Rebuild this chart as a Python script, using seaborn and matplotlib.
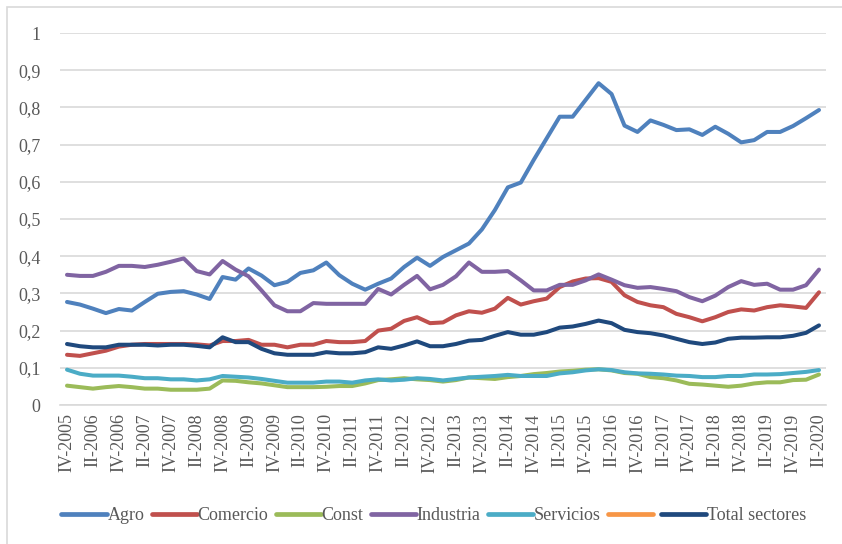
import matplotlib
matplotlib.use("Agg")
import matplotlib.pyplot as plt
from matplotlib.lines import Line2D
from matplotlib.patches import Rectangle
import seaborn as sns
import pandas as pd
import numpy as np

# ---- data ----
tick_labels = ["IV-2005", "II-2006", "IV-2006", "II-2007", "IV-2007", "II-2008",
               "IV-2008", "II-2009", "IV-2009", "II-2010", "IV-2010", "II-2011",
               "IV-2011", "II-2012", "IV-2012", "II-2013", "IV-2013", "II-2014",
               "IV-2014", "II-2015", "IV-2015", "II-2016", "IV-2016", "II-2017",
               "IV-2017", "II-2018", "IV-2018", "II-2019", "IV-2019", "II-2020"]

agro = [0.277, 0.270, 0.259, 0.247, 0.258, 0.254, 0.277, 0.299, 0.304, 0.306,
        0.297, 0.285, 0.344, 0.337, 0.367, 0.348, 0.322, 0.331, 0.355, 0.362,
        0.383, 0.349, 0.326, 0.310, 0.326, 0.340, 0.371, 0.396, 0.374, 0.398,
        0.416, 0.434, 0.472, 0.524, 0.585, 0.598, 0.659, 0.717, 0.775, 0.775,
        0.820, 0.865, 0.836, 0.751, 0.734, 0.765, 0.753, 0.739, 0.741, 0.726,
        0.748, 0.729, 0.706, 0.712, 0.734, 0.734, 0.750, 0.771, 0.793]

comercio = [0.135, 0.132, 0.139, 0.146, 0.157, 0.162, 0.164, 0.164, 0.164, 0.164,
            0.163, 0.160, 0.172, 0.172, 0.175, 0.162, 0.162, 0.155, 0.162, 0.162,
            0.172, 0.169, 0.169, 0.172, 0.200, 0.205, 0.226, 0.236, 0.220, 0.222,
            0.241, 0.252, 0.248, 0.259, 0.288, 0.270, 0.279, 0.286, 0.317, 0.332,
            0.340, 0.341, 0.331, 0.295, 0.277, 0.268, 0.263, 0.245, 0.236, 0.225,
            0.236, 0.250, 0.257, 0.254, 0.263, 0.268, 0.265, 0.261, 0.303]

const = [0.052, 0.048, 0.044, 0.048, 0.051, 0.048, 0.044, 0.044, 0.041, 0.041,
         0.041, 0.044, 0.066, 0.065, 0.061, 0.058, 0.053, 0.048, 0.048, 0.048,
         0.049, 0.051, 0.051, 0.058, 0.067, 0.069, 0.072, 0.069, 0.067, 0.063,
         0.067, 0.074, 0.072, 0.070, 0.075, 0.078, 0.083, 0.086, 0.090, 0.092,
         0.095, 0.096, 0.093, 0.086, 0.084, 0.075, 0.072, 0.066, 0.057, 0.055,
         0.052, 0.049, 0.052, 0.058, 0.061, 0.061, 0.067, 0.068, 0.082]

industria = [0.350, 0.347, 0.347, 0.358, 0.374, 0.374, 0.371, 0.377, 0.385, 0.394,
             0.360, 0.351, 0.387, 0.364, 0.346, 0.308, 0.268, 0.252, 0.252, 0.274,
             0.272, 0.272, 0.272, 0.272, 0.312, 0.297, 0.323, 0.347, 0.311, 0.323,
             0.346, 0.383, 0.358, 0.358, 0.360, 0.335, 0.308, 0.308, 0.323, 0.323,
             0.335, 0.351, 0.337, 0.322, 0.315, 0.317, 0.312, 0.306, 0.290, 0.279,
             0.294, 0.317, 0.333, 0.323, 0.326, 0.310, 0.310, 0.322, 0.364]

servicios = [0.095, 0.084, 0.079, 0.079, 0.079, 0.076, 0.072, 0.072, 0.069, 0.069,
             0.066, 0.069, 0.078, 0.076, 0.074, 0.070, 0.065, 0.060, 0.060, 0.060,
             0.063, 0.063, 0.060, 0.066, 0.069, 0.066, 0.068, 0.072, 0.070, 0.066,
             0.070, 0.074, 0.076, 0.078, 0.081, 0.078, 0.078, 0.078, 0.085, 0.088,
             0.093, 0.096, 0.094, 0.088, 0.085, 0.084, 0.082, 0.079, 0.078, 0.075,
             0.075, 0.078, 0.078, 0.082, 0.082, 0.083, 0.086, 0.089, 0.094]

total = [0.164, 0.158, 0.155, 0.155, 0.162, 0.162, 0.162, 0.160, 0.162, 0.162,
         0.159, 0.155, 0.182, 0.169, 0.169, 0.151, 0.139, 0.135, 0.135, 0.135,
         0.142, 0.139, 0.139, 0.142, 0.155, 0.151, 0.160, 0.171, 0.158, 0.158,
         0.164, 0.173, 0.175, 0.186, 0.196, 0.189, 0.189, 0.196, 0.208, 0.211,
         0.218, 0.227, 0.220, 0.202, 0.196, 0.193, 0.187, 0.178, 0.169, 0.164,
         0.168, 0.178, 0.181, 0.181, 0.182, 0.182, 0.186, 0.194, 0.214]

series_names = ["Agro", "Comercio", "Const", "Industria", "Servicios", "", "Total sectores"]
series_colors = ["#4F81BD", "#C0504D", "#9BBB59", "#8064A2", "#4BACC6", "#F79646", "#1F497D"]
y_ticks = [0, 0.1, 0.2, 0.3, 0.4, 0.5, 0.6, 0.7, 0.8, 0.9, 1.0]
y_tick_labels = ["0", "0,1", "0,2", "0,3", "0,4", "0,5", "0,6", "0,7", "0,8", "0,9", "1"]

data = {"Agro": agro, "Comercio": comercio, "Const": const, "Industria": industria,
        "Servicios": servicios, "Total sectores": total}

n = len(agro)
frames = []
for name, vals in data.items():
    frames.append(pd.DataFrame({"t": np.arange(n), "valor": vals, "serie": name}))
df = pd.concat(frames, ignore_index=True)

# ---- plot ----
sns.set_theme(style="white")
serif = ["Liberation Serif", "DejaVu Serif"]
plt.rcParams["font.family"] = serif

W, H = 842, 544
fig = plt.figure(figsize=(W / 100, H / 100), dpi=100)
ax = fig.add_axes([60 / W, (H - 405) / H, (826 - 60) / W, (405 - 33) / H])

palette = {nm: c for nm, c in zip(series_names, series_colors) if nm}
order = ["Agro", "Comercio", "Const", "Industria", "Servicios", "Total sectores"]
sns.lineplot(data=df, x="t", y="valor", hue="serie", hue_order=order,
             palette=palette, linewidth=2.9, ax=ax, legend=False,
             solid_capstyle="round", solid_joinstyle="round")

ax.set_xlim(-0.54, n - 1 + 0.54)
ax.set_ylim(0, 1)
ax.set_yticks(y_ticks)
ax.set_yticklabels(y_tick_labels)
ax.set_xticks(np.arange(0, n, 2))
ax.set_xticklabels(tick_labels, rotation=90)
ax.set_xlabel("")
ax.set_ylabel("")
ax.grid(axis="y", color="#D9D9D9", linewidth=1.2)
ax.set_axisbelow(True)
for s in ["top", "right", "left"]:
    ax.spines[s].set_visible(False)
ax.spines["bottom"].set_color("#D9D9D9")
ax.spines["bottom"].set_linewidth(1.2)
ax.tick_params(axis="y", length=0, pad=14, labelsize=13, labelcolor="#595959")
ax.tick_params(axis="x", length=0, pad=6, labelsize=13, labelcolor="#595959")

handles = [Line2D([0], [0], color=c, lw=3.4, solid_capstyle="round") for c in series_colors]
fig.legend(handles, series_names, loc="center", bbox_to_anchor=(434 / W, (H - 516) / H),
           ncol=7, frameon=False, fontsize=13, handlelength=2.5, handletextpad=0.05,
           columnspacing=0.4, labelcolor="#595959")

fig.patches.append(Rectangle((7 / W, -0.1), 1.2, (H - 7) / H + 0.1, transform=fig.transFigure,
                             fill=False, edgecolor="#D9D9D9", linewidth=1.2))

fig.savefig("out.png", dpi=100)
